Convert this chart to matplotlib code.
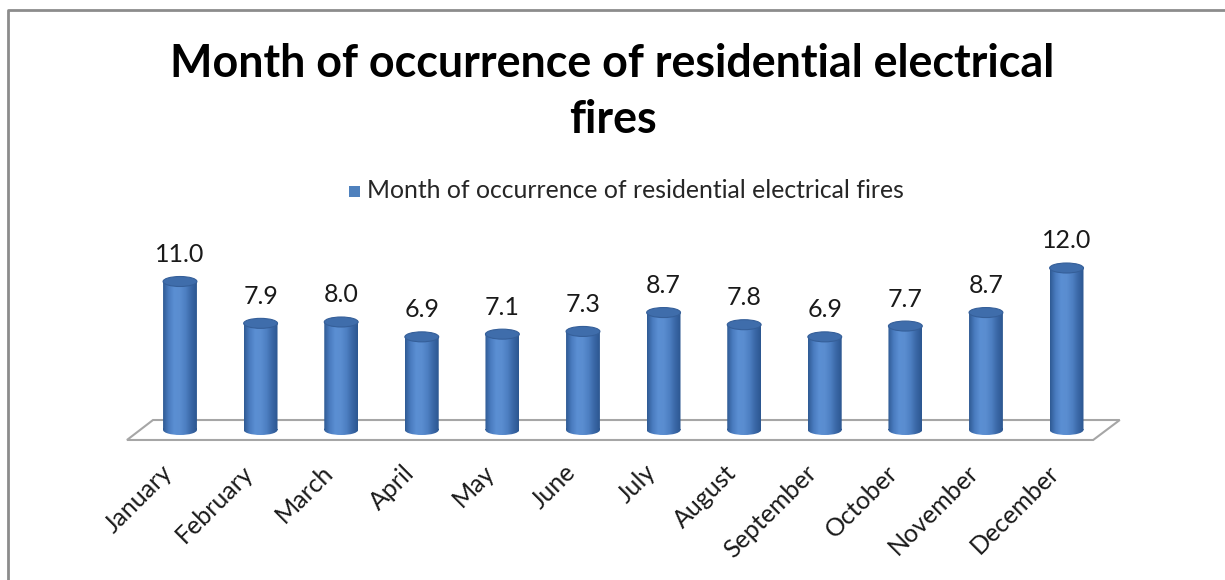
import matplotlib
matplotlib.use("Agg")
import matplotlib.pyplot as plt
import numpy as np
from matplotlib.patches import Ellipse, Rectangle, Polygon, PathPatch
from matplotlib.path import Path
from matplotlib.colors import LinearSegmentedColormap
from matplotlib.lines import Line2D
from matplotlib.transforms import Affine2D

months = ["January", "February", "March", "April", "May", "June", "July",
          "August", "September", "October", "November", "December"]
values = [11.0, 7.9, 8.0, 6.9, 7.1, 7.3, 8.7, 7.8, 6.9, 7.7, 8.7, 12.0]
series_name = "Month of occurrence of residential electrical fires"
title = "Month of occurrence of residential electrical\nfires"

W, H = 1225, 580
fig = plt.figure(figsize=(W / 100, H / 100), dpi=100)
fig.patch.set_facecolor("white")

# chart border (top and left visible)
fig.add_artist(Line2D([8 / W, 8 / W, 1.0], [0.0, 1 - 10 / H, 1 - 10 / H],
                      color="#8c8c8c", lw=2, transform=fig.transFigure))

# axes placement (pixels)
px_left, px_right = 99.4, 1139.1
px_top, px_bot = 227.5, 457.0
ax = fig.add_axes([px_left / W, 1 - px_bot / H, (px_right - px_left) / W,
                   (px_bot - px_top) / H])
ax.set_xlim(-1, 11.9)
ax.set_ylim(-2, 15)
ax.axis("off")

# floor
floor = Polygon([(-0.658, -0.74), (-0.335, 0.74), (11.66, 0.74), (11.33, -0.74)],
                closed=True, facecolor="white", edgecolor="#a6a6a6", lw=1.5, zorder=1)
ax.add_patch(floor)

cmap = LinearSegmentedColormap.from_list(
    "cyl", ["#2f5a94", "#4a7cc0", "#5b8fd3", "#5a8dd0", "#4d7fc2", "#3a67a6", "#2c5690"])
grad = np.linspace(0, 1, 200).reshape(1, -1)

bw = 0.42
eh = 0.74
x = np.arange(len(values))
for xi, v in zip(x, values):
    rect = Path.unit_rectangle().transformed(
        Affine2D().scale(bw, v).translate(xi - bw / 2, 0))
    e = Ellipse((xi, 0), bw, eh)
    ell = e.get_path().transformed(e.get_patch_transform())
    comp = Path.make_compound_path(rect, ell)
    clip = PathPatch(comp, transform=ax.transData, facecolor="none", edgecolor="none")
    ax.add_patch(clip)
    im = ax.imshow(grad, cmap=cmap, aspect="auto",
                   extent=(xi - bw / 2, xi + bw / 2, -eh / 2, v), zorder=2)
    im.set_clip_path(clip)
    top = Ellipse((xi, v), bw, eh, facecolor="#3f6dab", edgecolor="#355f99",
                  lw=0.8, zorder=3)
    ax.add_patch(top)
    ax.text(xi, v + 1.15, f"{v:.1f}", ha="center", va="bottom",
            fontsize=18, family="Lato", color="#1a1a1a", zorder=4)

# category labels
for xi, m in zip(x, months):
    ax.text(xi - 0.245, -2.27, m, rotation=45, ha="right", va="top",
            rotation_mode="anchor", fontsize=18, family="Lato", color="#1a1a1a",
            clip_on=False)

# title
fig.text(0.5, 1 - 43 / H, title, ha="center", va="top", fontsize=32.3,
         fontweight="bold", family="Lato", color="black", linespacing=1.42)

# legend
fig.add_artist(Rectangle((349 / W, 1 - 197 / H), 11 / W, 11 / H,
                         facecolor="#4f81bd", edgecolor="none",
                         transform=fig.transFigure))
fig.text(367 / W, 1 - 191 / H, series_name, ha="left", va="center",
         fontsize=17.8, family="Lato", color="#262626")

fig.savefig("out.png", dpi=100, facecolor="white")
